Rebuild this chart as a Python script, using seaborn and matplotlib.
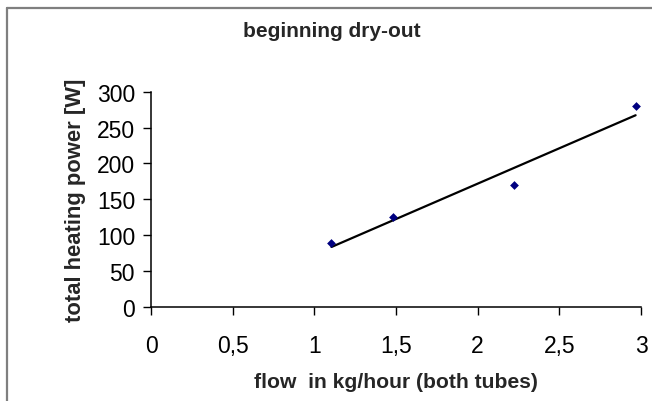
import numpy as np
import matplotlib
matplotlib.use('Agg')
import matplotlib.pyplot as plt
from matplotlib.lines import Line2D
import seaborn as sns

flow = [1.105, 1.481, 2.224, 2.967]
power = [89.7, 124.8, 170.6, 280.4]

x_ticks = [0, 0.5, 1, 1.5, 2, 2.5, 3]
x_tick_labels = ['0', '0,5', '1', '1,5', '2', '2,5', '3']
y_ticks = [0, 50, 100, 150, 200, 250, 300]

sns.set_style('white')
plt.rcParams['font.family'] = ['Liberation Sans', 'DejaVu Sans']

fig = plt.figure(figsize=(6.52, 4.02), dpi=100)
ax = fig.add_axes([151 / 652, 1 - 308 / 402, 490 / 652, 215.3 / 402])

sns.regplot(x=flow, y=power, ax=ax, ci=None, marker='D',
            scatter_kws={'s': 20, 'color': '#000080', 'edgecolor': '#000080',
                         'linewidths': 0, 'alpha': 1, 'zorder': 3},
            line_kws={'color': 'black', 'linewidth': 1.6})

ax.set_xlim(0, 3)
ax.set_ylim(0, 300)
ax.set_xticks(x_ticks)
ax.set_xticklabels(x_tick_labels)
ax.set_yticks(y_ticks)
ax.tick_params(axis='both', labelsize=16.5, colors='black', direction='out',
               length=5.5, width=1, bottom=True, left=True)
ax.tick_params(axis='x', pad=14)
ax.tick_params(axis='y', pad=6)

for side in ['top', 'right']:
    ax.spines[side].set_visible(False)
for side in ['left', 'bottom']:
    ax.spines[side].set_color('black')
    ax.spines[side].set_linewidth(1.1)

ax.set_xlabel('flow  in kg/hour (both tubes)', fontsize=15.2, fontweight='bold', labelpad=11)
ax.set_ylabel('total heating power [W]', fontsize=15.8, fontweight='bold', labelpad=8)
fig.suptitle('beginning dry-out', x=332 / 652, y=1 - 22 / 402, fontsize=15,
             fontweight='bold', va='top')

# gray chart-area frame on the left and top edges
fx, fy = 6.5 / 652, 1 - 8.5 / 402
fig.add_artist(Line2D([fx, 1], [fy, fy], transform=fig.transFigure, color='#7f7f7f', lw=1.6))
fig.add_artist(Line2D([fx, fx], [0, fy], transform=fig.transFigure, color='#7f7f7f', lw=1.6))

fig.savefig('out.png', dpi=100)
